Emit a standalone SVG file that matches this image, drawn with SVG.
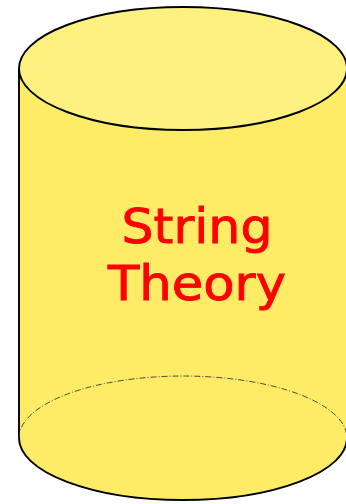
<svg xmlns="http://www.w3.org/2000/svg" width="346" height="504" viewBox="0 0 346 504">
<style>
.outline{stroke:#000;stroke-width:1.9;}
.label{font-family:"DejaVu Sans","Liberation Sans",sans-serif;font-size:48px;fill:#FF0000;stroke:#FF0000;stroke-width:0.9;text-anchor:middle;}
</style>
<rect width="346" height="504" fill="#fff"/>
<g id="cylinder">
<path class="outline" fill="#FFEC66" d="M19,68.5 V438 A164,62 0 0 0 347,438 V68.5 Z"/>
<path fill="none" stroke="#333" stroke-width="0.9" stroke-dasharray="6,2,1,2" d="M19,438 A164,62 0 0 1 347,438"/>
<ellipse class="outline" fill="#FFF180" cx="183" cy="68.5" rx="164" ry="61.5"/>
<text class="label" x="197" y="243" textLength="151" lengthAdjust="spacingAndGlyphs">String</text>
<text class="label" x="197" y="300" textLength="178" lengthAdjust="spacingAndGlyphs">Theory</text>
</g>
</svg>
